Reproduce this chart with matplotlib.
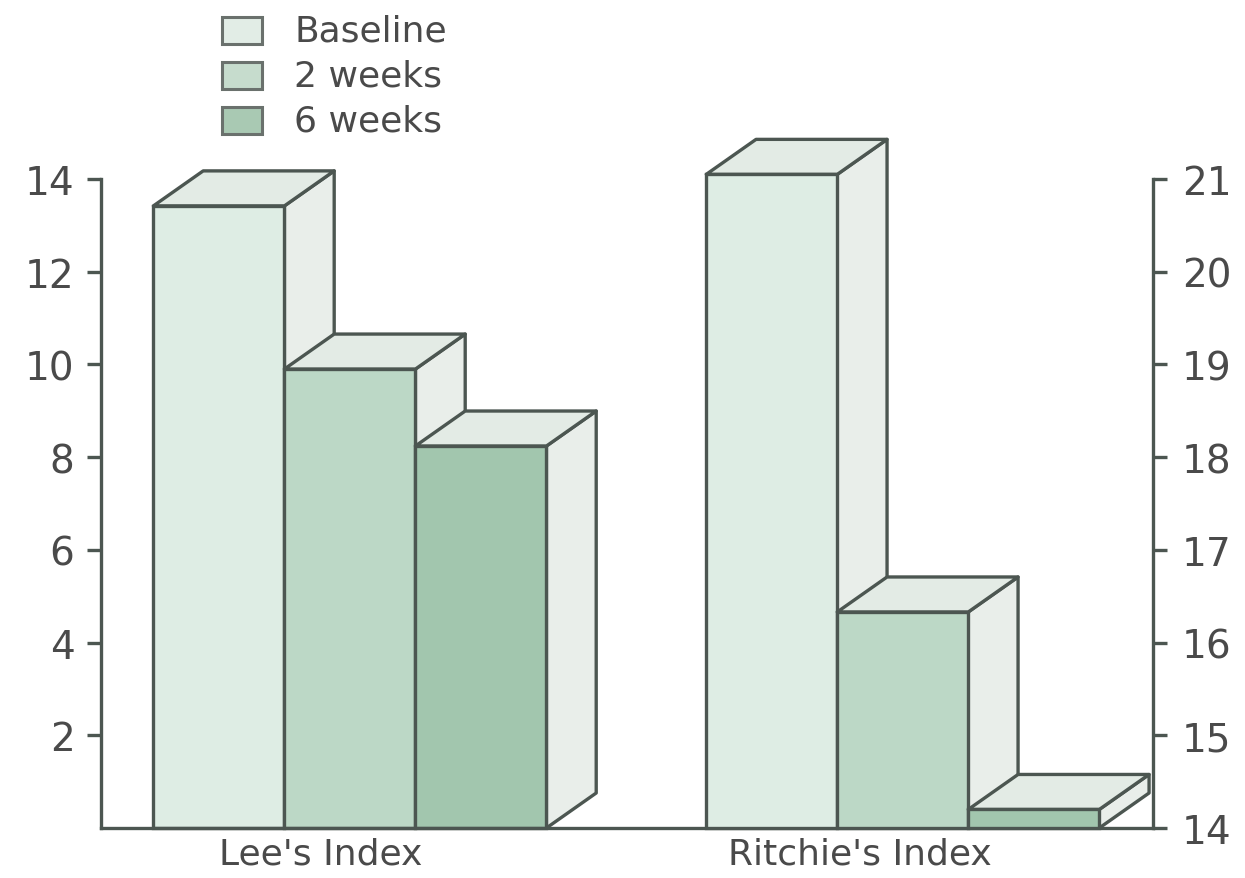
import numpy as np
import matplotlib.pyplot as plt
from matplotlib.patches import Polygon, Rectangle

plt.rcParams['font.family'] = ['DejaVu Sans']

groups = ["Lee's Index", "Ritchie's Index"]
series = ['Baseline', '2 weeks', '6 weeks']
lee_values = [13.42, 9.9, 8.24]
ritchie_values = [21.05, 16.33, 14.2]
left_ticks = [2, 4, 6, 8, 10, 12, 14]
right_ticks = [14, 15, 16, 17, 18, 19, 20, 21]

front_colors = ['#deede4', '#bcd8c6', '#a2c6ae']
legend_colors = ['#e2ede6', '#c6dccd', '#a9c9b3']
side_color = '#e9eeea'
top_color = '#e3ebe5'
edge = '#4c5651'
text_color = '#4a4a4a'

W, H = 1245, 879
fig = plt.figure(figsize=(W / 100, H / 100), dpi=100)
ax = fig.add_axes([101 / W, 1 - 829 / H, (1153 - 101) / W, (829 - 180) / H])
ax2 = ax.twinx()

ax.set_xlim(0, 8.03)
ax.set_ylim(0, 14)
ax2.set_ylim(14, 21)

group_pos = [1.9, 6.12]
bar_w = 1.0
depth_x = 0.38
depth_px = 35
lw = 2.4


def draw_group(axis, center, values, bottom):
    # depth in data units of this axis (pixel scale is the same on both)
    y0, y1 = axis.get_ylim()
    dy = depth_px / (829 - 180) * (y1 - y0)
    for i, v in enumerate(values):
        xc = center + (i - 1) * bar_w
        xl = xc - bar_w / 2
        xr = xc + bar_w / 2
        z = 3 + i * 3
        side = Polygon([(xr, bottom), (xr, v), (xr + depth_x, v + dy),
                        (xr + depth_x, bottom + dy)], closed=True,
                       facecolor=side_color, edgecolor=edge, lw=lw,
                       joinstyle='round', zorder=z, clip_on=False)
        top = Polygon([(xl, v), (xl + depth_x, v + dy), (xr + depth_x, v + dy),
                       (xr, v)], closed=True, facecolor=top_color,
                      edgecolor=edge, lw=lw, joinstyle='round', zorder=z + 1,
                      clip_on=False)
        axis.add_patch(side)
        axis.add_patch(top)
        axis.bar(xc, v - bottom, bottom=bottom, width=bar_w,
                 color=front_colors[i], edgecolor=edge, lw=lw,
                 zorder=z + 2, clip_on=False)


draw_group(ax, group_pos[0], lee_values, 0)
draw_group(ax2, group_pos[1], ritchie_values, 14)

# spines
for s in ['top', 'right']:
    ax.spines[s].set_visible(False)
for s in ['top', 'left', 'bottom']:
    ax2.spines[s].set_visible(False)
ax.spines['left'].set_bounds(0, 14)
ax2.spines['right'].set_bounds(14, 21)
for sp in [ax.spines['left'], ax.spines['bottom'], ax2.spines['right']]:
    sp.set_color(edge)
    sp.set_linewidth(lw)
    sp.set_zorder(20)

ax.set_yticks(left_ticks)
ax.tick_params(axis='y', direction='out', length=10, width=lw, color=edge,
               labelsize=28, labelcolor=text_color, pad=9)
ax2.set_yticks(right_ticks)
ax2.tick_params(axis='y', direction='out', length=10, width=lw, color=edge,
                labelsize=28, labelcolor=text_color, pad=11)

ax.set_xticks([group_pos[0] - 0.22, group_pos[1] - 0.33])
ax.set_xticklabels(groups)
ax.tick_params(axis='x', length=0, labelsize=26, labelcolor=text_color, pad=6)

# legend drawn at top left
for i, name in enumerate(series):
    yt = 18 + i * 45
    fig.patches.append(Rectangle((222 / W, 1 - (yt + 27) / H), 40 / W, 27 / H,
                                 transform=fig.transFigure,
                                 facecolor=legend_colors[i], edgecolor='#6a716d',
                                 lw=2.2))
    fig.text(294 / W, 1 - (yt + 13.5) / H, name, fontsize=26,
             color=text_color, va='center', ha='left')

fig.savefig('out.png', dpi=100)
